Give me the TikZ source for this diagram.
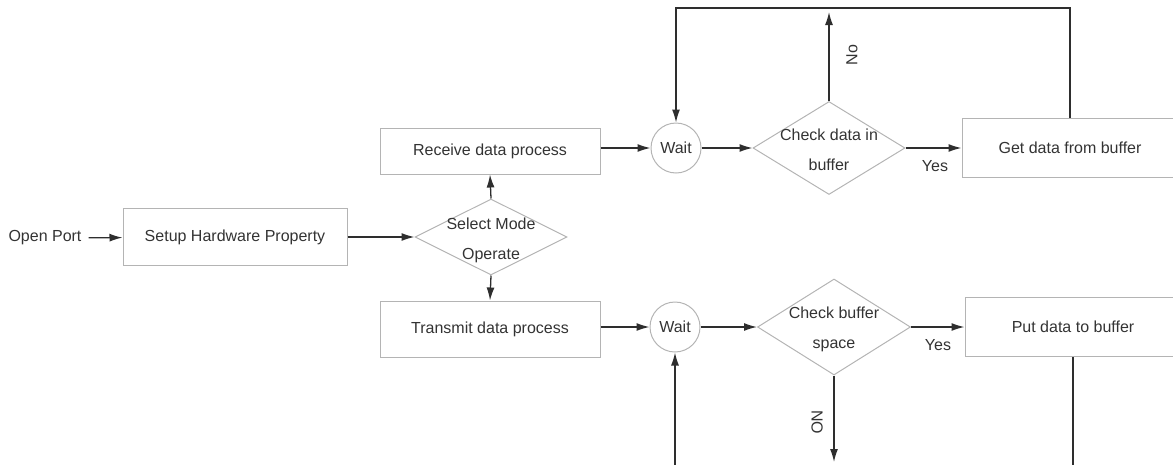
\documentclass[tikz,border=0pt]{standalone}
\usepackage{fontspec}
\setmainfont{Liberation Sans}
\usetikzlibrary{shapes.geometric,arrows.meta}
\definecolor{inkc}{HTML}{2E2E2E}
\definecolor{framec}{HTML}{B4B4B4}
\definecolor{textc}{HTML}{333333}
\tikzset{
  every node/.style={font=\fontsize{16}{30}\selectfont, text=textc},
  procbox/.style={draw=framec, line width=1pt, rectangle, inner sep=0pt},
  decide/.style={draw=framec, line width=1pt, diamond, inner sep=0pt},
  waitc/.style={draw=framec, line width=1pt, circle, inner sep=0pt, minimum size=50pt},
  conn/.style={draw=inkc, line width=1.3pt, -{Latex[length=13pt,width=8pt]}},
  wire/.style={draw=inkc, line width=1.3pt},
  tag/.style={inner sep=1pt}
}
\begin{document}
\begin{tikzpicture}[x=1pt, y=-1pt]
  \useasboundingbox (0,0) rectangle (1173,464);
  \clip (0,0) rectangle (1173,464);

  % start and setup
  \node[tag] (open) at (45,238) {Open Port};
  \node[procbox, minimum width=224pt, minimum height=57pt] (setup) at (235,237) {Setup Hardware Property};

  % mode selection
  \node[decide, minimum width=152pt, minimum height=76pt] (sel) at (491,237) {};
  \node[align=center] (seltxt) at (491,240) {Select Mode\\Operate};

  % receive branch
  \node[procbox, minimum width=220pt, minimum height=46pt] (recv) at (490,151) {Receive data process};
  \node[waitc] (wait1) at (676,148) {Wait};
  \node[decide, minimum width=152pt, minimum height=93pt] (chk1) at (829,148) {};
  \node[align=center] (chk1txt) at (829,150) {Check data in\\buffer};
  \node[procbox, minimum width=216pt, minimum height=59pt] (get) at (1070,148) {Get data from buffer};

  % transmit branch
  \node[procbox, minimum width=220pt, minimum height=56pt] (trans) at (490,329) {Transmit data process};
  \node[waitc] (wait2) at (675,327) {Wait};
  \node[decide, minimum width=153pt, minimum height=96pt] (chk2) at (834,327) {};
  \node[align=center] (chk2txt) at (834,329) {Check buffer\\space};
  \node[procbox, minimum width=216pt, minimum height=59pt] (put) at (1073,327) {Put data to buffer};

  % loose ends of the loops
  \coordinate (ret1) at (676,8);
  \coordinate (no1) at (829,12);
  \coordinate (no2) at (834,462);
  \coordinate (putdown) at (1073,470);
  \coordinate (ret2) at (675,470);

  % main flow
  \draw[conn, shorten <=6pt] (open) -- (setup);
  \draw[conn] (setup.east |- sel.west) -- (sel.west);
  \draw[conn] (sel.north) -- (recv.south);
  \draw[conn] (sel.south) -- (trans.north);

  % receive flow
  \draw[conn] (recv.east |- wait1) -- (wait1.west);
  \draw[conn] (wait1.east) -- (chk1.west);
  \draw[conn] (chk1.east) -- (get.west |- chk1.east);
  \draw[conn] (chk1.north) -- (no1);
  \draw[conn] (get.north) |- (ret1) -- (wait1.north);

  % transmit flow
  \draw[conn] (trans.east |- wait2) -- (wait2.west);
  \draw[conn] (wait2.east) -- (chk2.west);
  \draw[conn] (chk2.east) -- (put.west |- chk2.east);
  \draw[conn] (chk2.south) -- (no2);
  \draw[wire] (put.south) -- (putdown);
  \draw[conn] (ret2) -- (wait2.south);

  % branch labels
  \node[tag] (yes1) at (935,166) {Yes};
  \node[tag, rotate=90] (nolab1) at (852,55) {No};
  \node[tag] (yes2) at (938,345) {Yes};
  \node[tag, rotate=-90] (nolab2) at (817,422) {NO};
\end{tikzpicture}
\end{document}
